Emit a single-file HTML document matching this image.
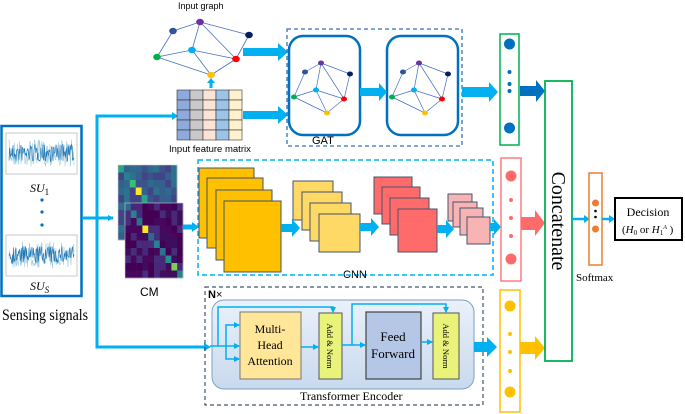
<!DOCTYPE html>
<html><head><meta charset="utf-8">
<style>
html,body{margin:0;padding:0;background:#fff;}
svg{display:block;}
.sans{font-family:"Liberation Sans",sans-serif;}
.serif{font-family:"Liberation Serif",serif;}
</style></head>
<body>
<svg id="s" width="685" height="414" viewBox="0 0 685 414" xmlns="http://www.w3.org/2000/svg">
<defs>
<marker id="ah" markerWidth="6" markerHeight="6" refX="5" refY="3" orient="auto" markerUnits="userSpaceOnUse"><path d="M0,0 L6,3 L0,6 z" fill="#00b0f0"/></marker>
<linearGradient id="tg" x1="0" y1="0" x2="0" y2="1"><stop offset="0" stop-color="#eaf1fa"/><stop offset="1" stop-color="#c9d9ee"/></linearGradient>
</defs>

<!-- Sensing signals -->
<rect x="1.5" y="126" width="80" height="170" fill="#fff" stroke="#0070c0" stroke-width="2.5"/>
<rect x="6" y="133" width="71" height="41" fill="#fff" stroke="#bbb" stroke-width="0.8"/>
<rect x="6" y="235" width="71" height="41" fill="#fff" stroke="#bbb" stroke-width="0.8"/>
<g id="sig1"></g><g id="sig2"></g>
<text x="30" y="192" class="serif" font-size="12" font-style="italic">SU<tspan font-size="9" font-style="normal" dy="3">1</tspan></text>
<circle cx="42" cy="200" r="1.6" fill="#0070c0"/><circle cx="42" cy="212" r="1.6" fill="#0070c0"/><circle cx="42" cy="225" r="1.6" fill="#0070c0"/>
<text x="30" y="290" class="serif" font-size="12" font-style="italic">SU<tspan font-size="9" dy="3">S</tspan></text>
<text x="2" y="320" class="serif" font-size="16" textLength="86" lengthAdjust="spacingAndGlyphs">Sensing signals</text>

<!-- main connectors -->
<g stroke="#00b0f0" stroke-width="3" fill="none">
<line x1="82" y1="218" x2="113" y2="218" marker-end="url(#ah)"/>
<polyline points="175,116 97,116 97,347 208,347"/>
</g>
<path d="M172,112 L178,116 L172,120z" fill="#00b0f0"/>
<path d="M204,343 L211,347 L204,351z" fill="#00b0f0"/>

<!-- CM -->
<g id="cm1"></g><g id="cm2"></g>
<text x="140" y="296" class="sans" font-size="12">CM</text>
<line x1="183" y1="227" x2="193" y2="227" stroke="#00b0f0" stroke-width="5"/><path d="M192,222 L199,227 L192,232z" fill="#00b0f0"/>

<!-- Input graph -->
<text x="178" y="9" class="sans" font-size="9">Input graph</text>
<g id="g0"></g>
<line x1="211" y1="88" x2="211" y2="82" stroke="#00b0f0" stroke-width="3"/><path d="M207,83 L211,78 L215,83z" fill="#00b0f0"/>

<!-- feature matrix -->
<g id="fm"></g>
<text x="169" y="152" class="sans" font-size="9.5">Input feature matrix</text>
<rect x="243" y="48" width="36" height="8" fill="#00b0f0"/><path d="M278,43 L288,52 L278,61z" fill="#00b0f0"/>
<rect x="243" y="111" width="36" height="8" fill="#00b0f0"/><path d="M278,106 L288,115 L278,124z" fill="#00b0f0"/>

<!-- GAT -->
<rect x="287" y="29" width="175" height="117" fill="none" stroke="#2e75b6" stroke-width="1.3" stroke-dasharray="4,3"/>
<rect x="289" y="36" width="71" height="99" rx="14" fill="#fff" stroke="#0070c0" stroke-width="2.5"/>
<rect x="387" y="36" width="71" height="99" rx="14" fill="#fff" stroke="#0070c0" stroke-width="2.5"/>
<g id="g1"></g><g id="g2"></g>
<rect x="360" y="88" width="20" height="8" fill="#00b0f0"/><path d="M379,83 L387,92 L379,101z" fill="#00b0f0"/>
<text x="312" y="144" class="sans" font-size="11">GAT</text>
<rect x="462" y="87" width="28" height="10" fill="#00b0f0"/><path d="M489,82 L498,92 L489,102z" fill="#00b0f0"/>

<!-- output vector 1 -->
<rect x="500" y="34" width="19" height="111" fill="#fff" stroke="#00b050" stroke-width="1.5"/>
<circle cx="509.5" cy="44" r="5.5" fill="#0070c0"/><circle cx="509.5" cy="72" r="2" fill="#0070c0"/><circle cx="509.5" cy="84" r="2" fill="#0070c0"/><circle cx="509.5" cy="91" r="2" fill="#0070c0"/><circle cx="509.5" cy="128" r="5.5" fill="#0070c0"/>
<rect x="520" y="86" width="17" height="10" fill="#0070c0"/><path d="M536,80 L545,91 L536,102z" fill="#0070c0"/>

<!-- CNN -->
<rect x="198" y="160" width="295" height="115" fill="none" stroke="#00b0f0" stroke-width="1.5" stroke-dasharray="5,3"/>
<g stroke="#44546a" stroke-width="1">
<rect x="199" y="168" width="55" height="70" fill="#ffc000"/>
<rect x="207" y="178" width="56" height="70" fill="#ffc000"/>
<rect x="216" y="190" width="56" height="70" fill="#ffc000"/>
<rect x="224" y="201" width="57" height="71" fill="#ffc000"/>
<rect x="293" y="181" width="40" height="39" fill="#ffd966"/>
<rect x="302" y="192" width="40" height="38" fill="#ffd966"/>
<rect x="310" y="203" width="41" height="38" fill="#ffd966"/>
<rect x="319" y="214" width="41" height="38" fill="#ffd966"/>
<rect x="374" y="177" width="38" height="37" fill="#ff6b6b"/>
<rect x="382" y="187" width="38" height="37" fill="#ff6b6b"/>
<rect x="390" y="198" width="39" height="37" fill="#ff6b6b"/>
<rect x="398" y="209" width="39" height="43" fill="#ff6b6b"/>
<rect x="448" y="194" width="24" height="27" fill="#f8b4b4"/>
<rect x="453" y="202" width="24" height="25" fill="#f8b4b4"/>
<rect x="460" y="208" width="23" height="27" fill="#f8b4b4"/>
<rect x="467" y="217" width="23" height="27" fill="#f8b4b4"/>
</g>
<g fill="#00b0f0">
<rect x="281" y="224" width="12" height="8"/><path d="M292,219 L300,228 L292,237z"/>
<rect x="360" y="223" width="12" height="8"/><path d="M371,218 L379,227 L371,236z"/>
<rect x="437" y="225" width="11" height="8"/><path d="M446,220 L454,229 L446,238z"/>
<rect x="490" y="223" width="5" height="8"/><path d="M494,219 L501,227 L494,235z"/>
</g>
<text x="343" y="278" class="sans" font-size="11">CNN</text>

<!-- output vector 2 -->
<rect x="501" y="158" width="20" height="123" fill="#fff" stroke="#ff7c80" stroke-width="1.5"/>
<circle cx="511" cy="176" r="5.5" fill="#ff6b6b"/><circle cx="511" cy="200" r="2" fill="#ff6b6b"/><circle cx="511" cy="218" r="2" fill="#ff6b6b"/><circle cx="511" cy="236" r="2" fill="#ff6b6b"/><circle cx="511" cy="259" r="5.5" fill="#ff6b6b"/>
<rect x="521" y="217" width="15" height="13" fill="#ff6b6b"/><path d="M535,210 L545,223 L535,236z" fill="#ff6b6b"/>

<!-- Transformer -->
<rect x="205" y="287" width="278" height="118" fill="none" stroke="#44546a" stroke-width="1.2" stroke-dasharray="4,3"/>
<text x="208" y="298" class="sans" font-size="11" font-weight="bold">N<tspan font-weight="normal">×</tspan></text>
<rect x="212" y="300" width="262" height="89" rx="12" fill="url(#tg)" stroke="#7f9fc4" stroke-width="1"/>
<rect x="240" y="312" width="61" height="67" fill="#ffe699" stroke="#777" stroke-width="1"/>
<text class="serif" font-size="12" text-anchor="middle"><tspan x="270" y="333">Multi-</tspan><tspan x="270" y="349">Head</tspan><tspan x="270" y="365">Attention</tspan></text>
<rect x="319" y="313" width="23" height="66" fill="#e9f27a" stroke="#555" stroke-width="1"/>
<text class="serif" font-size="8.5" transform="translate(327,346) rotate(90)" text-anchor="middle">Add &amp; Norm</text>
<rect x="366" y="312" width="55" height="67" fill="#b4c7e7" stroke="#444" stroke-width="1.2"/>
<text class="serif" font-size="13" text-anchor="middle"><tspan x="393" y="341">Feed</tspan><tspan x="393" y="358">Forward</tspan></text>
<rect x="433" y="313" width="26" height="66" fill="#e9f27a" stroke="#555" stroke-width="1"/>
<text class="serif" font-size="8.5" transform="translate(443,346) rotate(90)" text-anchor="middle">Add &amp; Norm</text>
<text x="300" y="400" class="serif" font-size="12">Transformer Encoder</text>
<g stroke="#00b0f0" stroke-width="1.5" fill="none" marker-end="url(#ah)">
<polyline points="218,346 218,307 333,307 333,312"/>
<polyline points="226,346 226,325 239,325"/>
<line x1="210" y1="346" x2="239" y2="346"/>
<polyline points="226,346 226,359 239,359"/>
<line x1="301" y1="347" x2="318" y2="347"/>
<line x1="342" y1="345" x2="365" y2="345"/>
<polyline points="352,345 352,304 446,304 446,312"/>
<line x1="421" y1="342" x2="432" y2="342"/>
</g>
<rect x="474" y="342" width="14" height="10" fill="#00b0f0"/><path d="M487,337 L497,347 L487,357z" fill="#00b0f0"/>

<!-- output vector 3 -->
<rect x="500" y="290" width="20" height="122" fill="#fff" stroke="#ffc000" stroke-width="1.5"/>
<circle cx="510" cy="306" r="5.5" fill="#ffc000"/><circle cx="510" cy="334" r="2" fill="#ffc000"/><circle cx="510" cy="352" r="2" fill="#ffc000"/><circle cx="510" cy="371" r="2" fill="#ffc000"/><circle cx="510" cy="392" r="5.5" fill="#ffc000"/>
<rect x="520" y="342" width="16" height="12" fill="#ffc000"/><path d="M535,336 L545,348 L535,360z" fill="#ffc000"/>

<!-- Concatenate -->
<rect x="545" y="81" width="27" height="280" fill="#fff" stroke="#00b050" stroke-width="1.8"/>
<text class="serif" font-size="20" transform="translate(552,221) rotate(90)" text-anchor="middle">Concatenate</text>

<!-- softmax -->
<line x1="572" y1="219" x2="585" y2="219" stroke="#00b0f0" stroke-width="2.5"/><path d="M584,215 L590,219 L584,223z" fill="#00b0f0"/>
<rect x="589" y="173" width="13" height="92" fill="#fff" stroke="#ed7d31" stroke-width="1.5"/>
<circle cx="595.5" cy="203" r="3.5" fill="#ed7d31"/><circle cx="595.5" cy="211" r="1.3" fill="#000"/><circle cx="595.5" cy="217" r="1.3" fill="#000"/><circle cx="595.5" cy="229" r="3.5" fill="#ed7d31"/>
<line x1="602" y1="219" x2="610" y2="219" stroke="#00b0f0" stroke-width="2.5"/><path d="M609,215 L615,219 L609,223z" fill="#00b0f0"/>
<text x="576" y="281" class="serif" font-size="11">Softmax</text>
<rect x="615" y="198" width="67" height="42" fill="#fff" stroke="#000" stroke-width="2"/>
<text x="648" y="216" class="serif" font-size="12" text-anchor="middle">Decision</text>
<text x="622" y="233" class="serif" font-size="11">(<tspan font-style="italic">H</tspan><tspan font-size="7" dy="2">0</tspan><tspan dy="-2"> or </tspan><tspan font-style="italic">H</tspan><tspan font-size="7" dy="2">1</tspan><tspan font-size="6" dy="-6" font-style="italic">A</tspan><tspan dy="4"> )</tspan></text>
</svg>
<script>
var NS="http://www.w3.org/2000/svg",S=document.getElementById('s');
function el(p,t,a){var e=document.createElementNS(NS,t);for(var k in a)e.setAttribute(k,a[k]);p.appendChild(e);return e;}
var seed=7;function r(){seed=(seed*16807)%2147483647;return seed/2147483647;}
function sig(g,y0,y1){g=document.getElementById(g);var mid=(y0+y1)/2,pts=[],pts2=[];
for(var i=0;i<=130;i++){var x=9+i*0.5;pts.push(x+","+(mid+(r()-0.5)*(y1-y0)*0.9).toFixed(1));pts2.push(x+","+(mid+(r()-0.5)*(y1-y0)*0.6).toFixed(1));}
el(g,'polyline',{points:pts.join(' '),fill:'none',stroke:'#9ecae1','stroke-width':0.6});
el(g,'polyline',{points:pts2.join(' '),fill:'none',stroke:'#1f77b4','stroke-width':0.6});}
sig('sig1',138,168);sig('sig2',240,270);
function cm(g,x,y,w,h,bg,diag,hi){g=document.getElementById(g);var n=10,cw=w/n,ch=h/n;
for(var i=0;i<n;i++)for(var j=0;j<n;j++){var c=bg[Math.floor(r()*bg.length)];if(i==j)c=diag[i%diag.length];if(i==j&&i==hi[0])c='#fde725';if(i==j&&i==hi[1])c='#7ad151';
el(g,'rect',{x:x+j*cw,y:y+i*ch,width:cw+0.3,height:ch+0.3,fill:c});}
el(g,'rect',{x:x,y:y,width:w,height:h,fill:'none',stroke:'#ccc','stroke-width':0.6});}
cm('cm1',118,165,59,75,['#3b528b','#31688e','#2c728e','#414487','#35608d'],['#22a884','#26828e','#3fbc73','#1f9e89'],[3,-1]);
cm('cm2',125,203,58,75,['#440154','#482878','#3e0d5c','#46085c','#472d7b'],['#31688e','#26828e','#2c728e','#21918c'],[3,8]);
var fm=document.getElementById('fm'),cols=['#8ea9db','#c9c9c9','#fbe4d5','#9dc3e6','#fff2cc'];
for(var i=0;i<5;i++)for(var j=0;j<5;j++)el(fm,'rect',{x:177+j*13,y:90+i*10,width:13,height:10,fill:cols[j],stroke:'#333','stroke-width':0.6});
var E=[[0,1],[0,2],[0,4],[0,5],[1,3],[3,4],[3,6],[4,5],[4,6],[5,6],[2,5]],C=['#7030a0','#2f5597','#002060','#00b050','#00b0f0','#ff0000','#ffc000'];
function graph(g,P,rr,arrow){g=document.getElementById(g);E.forEach(function(e){el(g,'line',{x1:P[e[0]][0],y1:P[e[0]][1],x2:P[e[1]][0],y2:P[e[1]][1],stroke:'#4472c4','stroke-width':arrow?0.7:0.8});});
P.forEach(function(p,i){el(g,'ellipse',{cx:p[0],cy:p[1],rx:rr*1.2,ry:rr,fill:C[i]});});}
graph('g0',[[200,22],[173,31],[249,35],[157,57],[192,50],[236,59],[211,75]],3.2,false);
var B=[[321,63],[305,72],[350,74],[294,97],[316,90],[344,99],[327,113]];
graph('g1',B,2.5,true);graph('g2',B.map(function(p){return[p[0]+98,p[1]];}),2.5,true);
</script>
</body></html>
